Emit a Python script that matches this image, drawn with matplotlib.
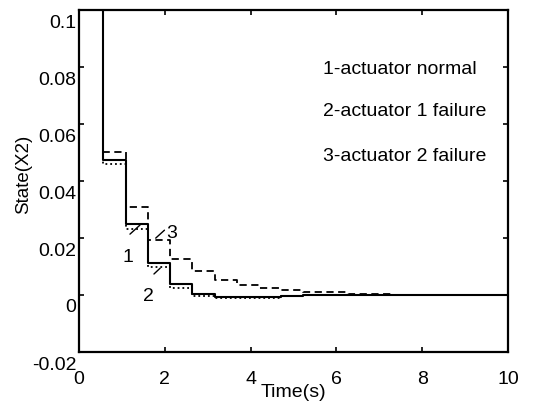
import matplotlib
matplotlib.use('Agg')
import matplotlib.pyplot as plt
from matplotlib.transforms import ScaledTranslation

# step times (s) and state values
t = [0, 0.57, 1.10, 1.62, 2.12, 2.64, 3.16, 3.68, 4.20, 4.72, 5.22, 6.26, 7.30, 10]
x2_normal = [0.15, 0.0475, 0.0248, 0.0113, 0.0038, 0.0002, -0.0008, -0.0008, -0.0007,
             -0.0002, 0.0, 0.0, 0.0, 0.0]
x2_fail1 = [0.15, 0.0460, 0.0233, 0.0100, 0.0025, -0.0005, -0.0012, -0.0011, -0.0009,
            -0.0003, 0.0, 0.0, 0.0, 0.0]
x2_fail2 = [0.15, 0.0501, 0.0310, 0.0194, 0.0126, 0.0085, 0.0052, 0.0034, 0.0025,
            0.0016, 0.0009, 0.0004, 0.0, 0.0]

xticks = [0, 2, 4, 6, 8, 10]
yticks = [-0.02, 0, 0.02, 0.04, 0.06, 0.08, 0.1]
ytick_labels = ['-0.02', '0', '0.02', '0.04', '0.06', '0.08', '0.1']
notes = ['1-actuator normal', '2-actuator 1 failure', '3-actuator 2 failure']

plt.rcParams['font.family'] = ['Liberation Sans', 'DejaVu Sans']
plt.rcParams['font.size'] = 14

fig = plt.figure(figsize=(5.42, 4.03), dpi=100)
ax = fig.add_axes([79 / 542, 1 - 352 / 403, 429 / 542, 342 / 403])

ax.step(t, x2_normal, where='post', color='black', lw=1.5, ls='-')
ax.step(t, x2_fail1, where='post', color='black', lw=1.3, ls=':')
ax.step(t, x2_fail2, where='post', color='black', lw=1.3, ls='--', dashes=(4, 2.5))

ax.set_xlim(0, 10)
ax.set_ylim(-0.02, 0.1)
ax.set_xticks(xticks)
ax.set_yticks(yticks)
ax.set_yticklabels(ytick_labels)

for s in ax.spines.values():
    s.set_linewidth(1.6)
ax.tick_params(direction='in', length=3.5, width=1.2, top=True, right=True)
ax.tick_params(axis='x', pad=14)
ax.tick_params(axis='y', pad=2)
# matlab puts the y tick labels a bit below the ticks
for lbl in ax.get_yticklabels():
    lbl.set_transform(lbl.get_transform() + ScaledTranslation(0, -0.11, fig.dpi_scale_trans))

ax.set_xlabel('Time(s)', va='center')
ax.xaxis.set_label_coords(0.5, -0.117)
ax.set_ylabel('State(X2)', va='center', fontsize=13.5)
ax.yaxis.set_label_coords(-0.128, 0.52)

for i, s in enumerate(notes):
    ax.text(0.569, [0.827, 0.702, 0.573][i], s, transform=ax.transAxes, va='center', ha='left')

# curve labels with pointer lines
ax.text(1.14, 0.013, '1', ha='center', va='center')
ax.annotate('', xy=(1.47, 0.0252), xytext=(1.14, 0.0207), arrowprops=dict(arrowstyle='-', lw=1))
ax.text(2.15, 0.0217, '3', ha='center', va='center')
ax.annotate('', xy=(2.04, 0.0234), xytext=(1.74, 0.0193), arrowprops=dict(arrowstyle='-', lw=1))
ax.text(1.625, -0.0007, '2', ha='center', va='center')
ax.annotate('', xy=(1.94, 0.0101), xytext=(1.70, 0.0067), arrowprops=dict(arrowstyle='-', lw=1))

fig.savefig('out.png', dpi=100)
